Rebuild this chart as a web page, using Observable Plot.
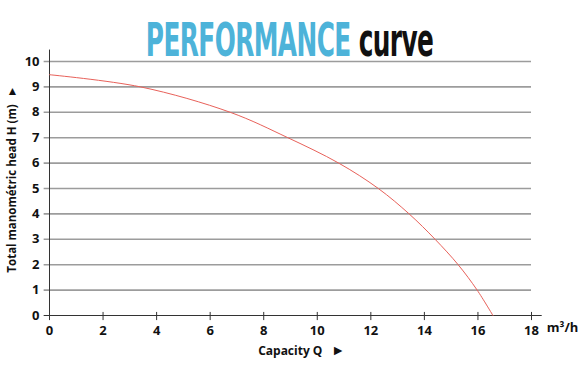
<!DOCTYPE html>
<html><head><meta charset="utf-8">
<script src="https://cdn.jsdelivr.net/npm/d3@7"></script>
<script src="https://cdn.jsdelivr.net/npm/@observablehq/plot@0.6"></script>
<style>
body{margin:0;background:#fff;width:584px;height:366px;overflow:hidden;position:relative;font-family:"Open Sans",sans-serif}
#title{position:absolute;left:-2px;width:584px;top:12px;text-align:center;z-index:2}
#title .inner{display:inline-block;transform:scaleX(0.6);transform-origin:center;font-family:"DejaVu Sans Condensed","Open Sans",sans-serif;font-weight:bold;font-size:46px;line-height:56px;letter-spacing:-1px;white-space:nowrap}
#title .a{color:#4db3d9}
#title .b{color:#111}
#chart{position:absolute;left:0;top:0}
</style></head><body>
<div id="title"><span class="inner"><span class="a">PERFORMANCE</span> <span class="b">curve</span></span></div>
<div id="chart"></div>
<script>
const capacity = [0, 3.4, 6.75, 8.9, 10.8, 12.28, 13.43, 14.4, 15.26, 15.97, 16.56];
const head     = [9.48, 9, 8, 7, 6, 5, 4, 3, 2, 1, 0];
const xTicks = [0, 2, 4, 6, 8, 10, 12, 14, 16, 18];
const yTicks = [0, 1, 2, 3, 4, 5, 6, 7, 8, 9, 10];
const xLabel = "Capacity Q";
const yLabel = "Total manométric head H (m)";
const xArrow = "\u25BA";
const yArrow = "\u25B2";
const unitLabel = "m\u00B3/h";

const curve = capacity.map((q, i) => ({q, h: head[i]}));

const plot = Plot.plot({
  width: 584, height: 366,
  marginLeft: 49, marginRight: 53, marginTop: 61, marginBottom: 51,
  style: {fontFamily: "'Open Sans', sans-serif", fontWeight: "bold", fontSize: "13px", color: "#111", overflow: "visible"},
  x: {type: "linear", domain: [0, 18]},
  y: {type: "linear", domain: [0, 10]},
  marks: [
    Plot.ruleY(yTicks.filter(d => d > 0), {y: d => d, x1: -0.2, x2: 18, stroke: "#9c9c9c", strokeWidth: 1.6}),
    Plot.ruleX([0], {x: d => d, y1: 0, y2: 10.45, stroke: "#333", strokeWidth: 1}),
    Plot.ruleY([0], {y: d => d, x1: -0.2, x2: 18.4, stroke: "#333", strokeWidth: 1}),
    Plot.ruleX(xTicks, {x: d => d, y1: 0.12, y2: -0.2, stroke: "#333", strokeWidth: 1}),
    Plot.axisX(xTicks, {tickSize: 0, tickPadding: 10, fontSize: 13, fontWeight: "bold", label: null}),
    Plot.axisY(yTicks, {tickSize: 0, tickPadding: 10, fontSize: 13, fontWeight: "bold", label: null}),
    Plot.line(curve, {x: "q", y: "h", curve: "catmull-rom", stroke: "#e8615a", strokeWidth: 1}),
    Plot.text([xLabel], {x: 10, y: 0, dx: -27, dy: 36, fontSize: 12, fontWeight: "bold", letterSpacing: "-0.4px"}),
    Plot.text([xArrow], {x: 10, y: 0, dx: 21, dy: 35, fontSize: 14, fontWeight: "bold"}),
    Plot.text([yLabel], {x: 0, y: 5.0, dx: -37, rotate: -90, fontSize: 11.5, fontWeight: "bold", letterSpacing: "-0.5px"}),
    Plot.text([yArrow], {x: 0, y: 8.85, dx: -37, rotate: 0, fontSize: 12, fontWeight: "bold"}),
    Plot.text([unitLabel], {x: 18, y: 0, dx: 31, dy: 12, fontSize: 13, fontWeight: "bold"})
  ]
});
document.getElementById("chart").appendChild(plot);
</script>
</body></html>
